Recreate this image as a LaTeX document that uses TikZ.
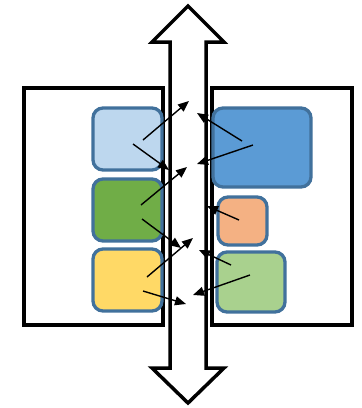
\documentclass[tikz,border=0pt]{standalone}
\usetikzlibrary{arrows.meta}
\definecolor{bordc}{HTML}{41719C}
\definecolor{lblue}{HTML}{BDD7EE}
\definecolor{dgreen}{HTML}{70AD47}
\definecolor{yell}{HTML}{FFD966}
\definecolor{mblue}{HTML}{5B9BD5}
\definecolor{orng}{HTML}{F4B183}
\definecolor{lgreen}{HTML}{A9D18E}
\tikzset{
  panel/.style={draw=black, line width=3.5pt, fill=white},
  bigarrow/.style={draw=black, line width=3.5pt, fill=white, line join=miter},
  blk/.style={draw=bordc, line width=3.3pt, rounded corners=10pt},
  conn/.style={draw=black, line width=1.4pt, -{Triangle[length=11pt,width=9pt]}, shorten >=0pt}
}
\begin{document}
\begin{tikzpicture}[x=1pt,y=-1pt]
\useasboundingbox (0,0) rectangle (362,408);
% panels
\path[panel] (24,88) rectangle (163,325);
\path[panel] (212,88) rectangle (352,325);
% double arrow
\path[bigarrow] (188,6) -- (224,42) -- (206,42) -- (206,368) -- (224,368) -- (188,403)
  -- (152,368) -- (170,368) -- (170,42) -- (152,42) -- cycle;
% blocks
\path[blk, fill=lblue]  (93,108) rectangle (162,170);
\path[blk, fill=dgreen] (93,179) rectangle (162,241);
\path[blk, fill=yell]   (93,249) rectangle (162,311);
\path[blk, fill=mblue]  (213,108) rectangle (311,187);
\path[blk, fill=orng]   (218,197) rectangle (267,245);
\path[blk, fill=lgreen] (217,252) rectangle (285,312);
% connector end points
\coordinate (a1) at (143,140); \coordinate (b1) at (189,101);
\coordinate (a2) at (133,144); \coordinate (b2) at (169,170);
\coordinate (a3) at (141,205); \coordinate (b3) at (187,167);
\coordinate (a4) at (142,219); \coordinate (b4) at (181,248);
\coordinate (a5) at (147,277); \coordinate (b5) at (193,238);
\coordinate (a6) at (143,291); \coordinate (b6) at (186,304);
\coordinate (c1) at (242,141); \coordinate (d1) at (197,113);
\coordinate (c2) at (253,145); \coordinate (d2) at (197,164);
\coordinate (c3) at (239,220); \coordinate (d3) at (207,206);
\coordinate (c4) at (231,265); \coordinate (d4) at (199,250);
\coordinate (c5) at (250,275); \coordinate (d5) at (193,295);
\foreach \i in {1,...,6} {\draw[conn] (a\i) -- (b\i);}
\foreach \i in {1,...,5} {\draw[conn] (c\i) -- (d\i);}
\end{tikzpicture}
\end{document}
